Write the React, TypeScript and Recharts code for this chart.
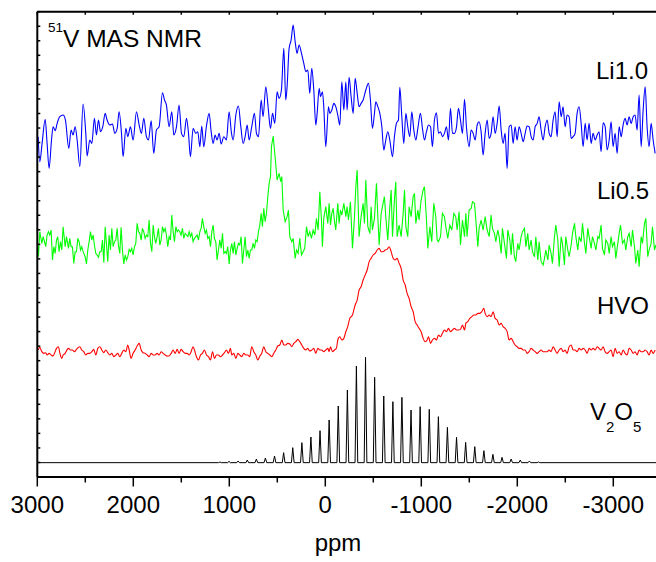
import { LineChart, Line, XAxis, YAxis } from "recharts";

// [ppm, intensity], intensity relative to each trace's baseline (a.u.)
const li10: [number, number][] = [
  [2991, -10], [2974, -85], [2950, -30], [2918, 42], [2898, -30], [2877, -105], [2852, -20], [2835, 20], [2814, 8], [2793, 30],
  [2766, 50], [2731, 55], [2707, 40], [2672, -45], [2648, 10], [2627, -5], [2606, 20], [2585, -20], [2557, -100], [2523, 88],
  [2495, 0], [2481, -68], [2453, -20], [2432, -30], [2405, 45], [2384, -5], [2363, 40], [2342, 5], [2318, 20], [2293, 60],
  [2273, 40], [2245, 25], [2217, 28], [2193, 0], [2168, 15], [2148, 65], [2123, 0], [2106, -70], [2078, 15], [2057, -10],
  [2030, 20], [2002, -20], [1967, 65], [1939, 25], [1915, 0], [1891, 45], [1863, -10], [1842, -20], [1814, 38], [1787, -60],
  [1759, 10], [1731, 20], [1696, 122], [1675, 100], [1655, 85], [1627, 20], [1599, 65], [1578, -5], [1550, 20], [1523, 85],
  [1498, 0], [1474, -10], [1446, 45], [1425, 0], [1405, -70], [1377, 15], [1349, 0], [1328, 5], [1307, -40], [1287, 22],
  [1266, -40], [1238, 22], [1210, 60], [1189, 5], [1168, -30], [1148, -5], [1127, -20], [1106, 0], [1085, -32], [1057, -10],
  [1030, -20], [1002, 65], [977, 0], [960, -20], [932, 55], [905, 82], [880, 20], [856, -30], [835, -10], [814, 25],
  [793, -20], [766, 20], [738, 60], [717, 0], [696, -10], [668, 100], [648, 50], [620, 140], [596, 80], [571, 15],
  [550, 60], [526, 30], [502, 125], [481, 105], [457, 130], [432, 255], [412, 100], [398, 140], [377, 255], [356, 280],
  [335, 325], [314, 275], [294, 240], [273, 265], [248, 240], [224, 210], [203, 185], [182, 190], [162, 120], [141, 195],
  [120, 130], [99, 25], [85, 60], [64, 135], [50, 110], [30, 125], [16, 80],
  [-5, -40], [-33, 80], [-47, 60], [-68, 70], [-89, 90], [-109, 80], [-130, 55], [-151, 25], [-172, 155], [-193, 70],
  [-214, 155], [-227, 70], [-248, 168], [-269, 110], [-290, 60], [-311, 165], [-332, 120], [-352, 80], [-373, 90], [-394, 100],
  [-422, 130], [-450, 150], [-470, 100], [-491, 15], [-512, 60], [-526, 95], [-547, 80], [-568, 60], [-589, 20], [-609, -50],
  [-630, -20], [-651, 5], [-672, -20], [-700, -70], [-720, -10], [-741, 30], [-762, 40], [-776, 138], [-797, 50], [-818, -30],
  [-839, 60], [-859, 20], [-880, -10], [-901, 65], [-922, 10], [-943, -20], [-964, 15], [-991, 60], [-1012, 15], [-1033, -20],
  [-1054, 5], [-1075, 25], [-1096, 20], [-1116, -40], [-1137, 40], [-1158, 62], [-1179, 0], [-1200, 5], [-1220, -10], [-1241, 0],
  [-1262, 20], [-1283, -20], [-1304, 75], [-1325, 0], [-1345, 0], [-1366, 18], [-1387, 75], [-1408, 40], [-1429, 0], [-1450, 102],
  [-1470, 20], [-1498, -40], [-1519, 10], [-1540, 0], [-1561, -20], [-1582, 25], [-1602, 35], [-1623, 5], [-1644, -65], [-1665, 0],
  [-1686, 40], [-1707, -15], [-1727, 0], [-1748, 50], [-1769, 0], [-1790, 30], [-1811, 82], [-1832, 10], [-1852, -30], [-1873, 0],
  [-1894, -105], [-1915, 20], [-1936, 25], [-1957, -30], [-1977, 20], [-1998, -20], [-2019, 20], [-2040, 0], [-2061, -25], [-2082, 0],
  [-2102, 22], [-2123, 20], [-2144, -10], [-2165, -20], [-2186, 20], [-2207, 30], [-2227, 50], [-2248, 10], [-2269, -20], [-2290, 20],
  [-2311, 40], [-2332, 0], [-2352, -10], [-2373, 40], [-2394, 65], [-2415, -10], [-2436, 95], [-2457, 50], [-2477, 80], [-2498, 20],
  [-2519, 55], [-2540, 50], [-2561, -15], [-2582, -10], [-2602, 0], [-2623, 60], [-2644, 80], [-2665, 30], [-2686, -40], [-2707, 30],
  [-2727, -20], [-2748, 30], [-2769, -30], [-2790, 0], [-2811, -20], [-2832, -5], [-2852, 5], [-2873, -55], [-2894, 32], [-2915, 20],
  [-2936, -50], [-2957, -20], [-2977, 35], [-2998, -40], [-3019, 0], [-3040, -60], [-3061, 20], [-3082, -10], [-3102, 25], [-3123, 45],
  [-3144, 25], [-3165, 50], [-3186, 30], [-3207, 50], [-3227, 55], [-3248, 10], [-3269, 115], [-3290, -40], [-3311, 70], [-3332, 140],
  [-3352, 20], [-3373, -40], [-3394, 30], [-3415, -20], [-3436, -60],
];

const li05: [number, number][] = [
  [3002, 20], [2988, -40], [2974, 35], [2953, 0], [2939, 20], [2925, 5], [2912, -10], [2898, 25], [2884, 35], [2870, 25],
  [2856, 40], [2842, -50], [2828, -10], [2814, -30], [2800, 10], [2787, 20], [2773, -25], [2759, 5], [2745, -20], [2731, 50],
  [2710, -10], [2696, 20], [2675, -15], [2662, 15], [2648, -10], [2634, -10], [2620, -60], [2606, -25], [2592, -25], [2578, 15],
  [2564, 5], [2550, -20], [2537, -10], [2523, -25], [2502, -40], [2488, -62], [2474, -20], [2460, 5], [2446, 35], [2432, 10],
  [2418, 25], [2405, -5], [2391, -30], [2377, -35], [2363, -42], [2349, -25], [2335, -25], [2321, 10], [2307, -58], [2293, 50],
  [2280, 0], [2266, -55], [2252, 25], [2238, -20], [2224, 45], [2210, -10], [2196, 5], [2182, 10], [2168, 45], [2155, -5],
  [2141, -30], [2127, 48], [2113, -20], [2099, -62], [2085, -35], [2071, -50], [2057, -40], [2043, -18], [2030, -25], [2016, -15],
  [2002, -35], [1988, -10], [1974, 0], [1960, 60], [1946, 35], [1932, 30], [1918, 10], [1905, 45], [1891, 35], [1877, 15],
  [1863, 25], [1849, 20], [1835, 70], [1821, 0], [1807, -25], [1793, 55], [1780, 20], [1766, 0], [1752, 20], [1738, 45],
  [1724, -5], [1710, 10], [1696, 50], [1682, 35], [1668, 45], [1655, 25], [1641, -10], [1627, 20], [1613, 10], [1599, 85],
  [1585, 35], [1571, 5], [1557, 50], [1543, 35], [1530, 40], [1516, 35], [1502, 25], [1488, 45], [1474, 15], [1460, 30],
  [1446, 25], [1432, 20], [1418, 35], [1405, 20], [1391, 30], [1377, 5], [1363, 15], [1349, 20], [1335, 25], [1321, 10],
  [1307, 35], [1293, 45], [1280, 75], [1266, 50], [1252, 30], [1238, 40], [1224, 15], [1210, 20], [1196, -10], [1182, 35],
  [1168, 55], [1155, 15], [1141, 5], [1127, -50], [1113, -20], [1099, 10], [1085, -15], [1071, 30], [1057, -30], [1043, -25],
  [1030, -30], [1016, -10], [1002, -62], [988, -20], [974, 0], [960, -30], [946, 5], [932, -35], [918, -15], [905, 0],
  [891, -5], [877, 20], [863, -60], [849, -20], [835, 20], [821, -40], [807, -20], [793, -45], [780, -20], [766, -20],
  [752, 0], [738, -15], [724, 10], [710, 5], [696, 35], [682, 55], [668, 90], [655, 50], [641, 105], [627, 65],
  [613, 90], [599, 140], [585, 180], [571, 200], [561, 290], [543, 322], [523, 260], [502, 190], [481, 210], [464, 185],
  [453, 200], [439, 100], [418, 65], [398, 80], [384, 100], [370, 20], [349, 5], [335, 15], [314, -45], [300, -20],
  [283, -30], [266, 15], [248, -35], [231, -25], [214, -15], [196, 50], [179, 20], [162, 35], [144, 15], [127, 40],
  [109, 25], [92, 75], [75, 40], [57, 155], [40, 70], [30, -10], [16, 75],
  [-5, 110], [-26, 60], [-40, 120], [-54, 55], [-68, 90], [-82, 105], [-96, 65], [-109, 40], [-130, 120], [-144, 60],
  [-158, 100], [-172, 85], [-193, 120], [-214, 80], [-227, 110], [-241, 70], [-262, 125], [-283, -15], [-304, 80], [-318, 170],
  [-332, 220], [-352, 20], [-373, 80], [-394, 120], [-408, 60], [-422, 190], [-443, 50], [-464, 30], [-477, 110], [-491, 40],
  [-512, 75], [-533, 180], [-547, 80], [-561, -5], [-582, 90], [-595, 110], [-616, 140], [-630, 80], [-651, 10], [-672, 110],
  [-686, 160], [-700, 20], [-720, 130], [-734, 185], [-748, 20], [-769, 55], [-790, 20], [-811, 90], [-825, 160], [-839, 50],
  [-859, 20], [-873, 110], [-894, 80], [-915, 140], [-929, 150], [-943, 60], [-964, 100], [-977, 70], [-998, 130], [-1019, 160],
  [-1033, 170], [-1054, 70], [-1068, -15], [-1089, 50], [-1109, 5], [-1130, 120], [-1151, 80], [-1165, 10], [-1179, 5], [-1200, 20],
  [-1220, 90], [-1241, 80], [-1255, 50], [-1276, 15], [-1297, 55], [-1318, 40], [-1339, 90], [-1359, 80], [-1373, 40], [-1394, 95],
  [-1408, -5], [-1429, 70], [-1450, 20], [-1464, 90], [-1477, 20], [-1498, 100], [-1519, 105], [-1533, 125], [-1554, 120], [-1568, 70],
  [-1589, -10], [-1602, 45], [-1623, 70], [-1644, 40], [-1665, 80], [-1686, 40], [-1707, 20], [-1727, 85], [-1741, 45], [-1762, 30],
  [-1776, 5], [-1797, 40], [-1811, 20], [-1832, -30], [-1845, 45], [-1866, 0], [-1887, -45], [-1901, 40], [-1922, 10], [-1936, -35],
  [-1950, 30], [-1970, -40], [-1984, -55], [-2005, 0], [-2019, -20], [-2040, 20], [-2054, 35], [-2075, 45], [-2089, -10], [-2109, 30],
  [-2123, -20], [-2144, 10], [-2158, -25], [-2179, -40], [-2193, 20], [-2214, -50], [-2227, 5], [-2248, -55], [-2269, -65], [-2283, -45],
  [-2297, -20], [-2318, -50], [-2332, -5], [-2352, -30], [-2366, -60], [-2387, 20], [-2401, 55], [-2422, 10], [-2436, -70], [-2457, 20],
  [-2470, 0], [-2491, -65], [-2505, 20], [-2526, -20], [-2540, -40], [-2561, -5], [-2575, 30], [-2596, 60], [-2610, 20], [-2630, -20],
  [-2644, 20], [-2665, 5], [-2679, 60], [-2700, 0], [-2714, -30], [-2734, 45], [-2748, 20], [-2769, -15], [-2783, 20], [-2804, 0],
  [-2818, -20], [-2839, 20], [-2852, 15], [-2873, 55], [-2887, -15], [-2908, -35], [-2922, 10], [-2943, 0], [-2957, -30], [-2977, 20],
  [-2991, -10], [-3012, 5], [-3026, -45], [-3047, 0], [-3061, 30], [-3075, 55], [-3096, 0], [-3116, 10], [-3130, -20], [-3151, 20],
  [-3165, 30], [-3186, -10], [-3200, 40], [-3221, -10], [-3234, -60], [-3255, -20], [-3269, -70], [-3290, 20], [-3304, 0], [-3325, 60],
  [-3339, 75], [-3359, -40], [-3373, -20], [-3394, 0], [-3408, 50], [-3429, -20], [-3443, -5],
];

const hvo: [number, number][] = [
  [2991, 5], [2974, 13], [2953, 0], [2932, -5], [2912, -3], [2898, -10], [2877, -5], [2856, -10], [2835, -13], [2821, -5],
  [2800, 10], [2780, 15], [2766, -3], [2745, -20], [2731, -10], [2710, -5], [2696, 3], [2675, 10], [2655, 5], [2634, 5],
  [2613, 0], [2592, 7], [2571, 13], [2557, 15], [2537, 5], [2516, 0], [2495, -10], [2474, -5], [2453, -5], [2432, 0],
  [2412, 7], [2391, -10], [2370, 10], [2349, 15], [2328, 5], [2307, -3], [2287, 5], [2266, -3], [2245, -10], [2224, -5],
  [2203, -15], [2182, -10], [2162, -5], [2141, -15], [2120, -5], [2099, 5], [2078, 0], [2057, 20], [2043, 5], [2023, -20],
  [2002, -5], [1981, 5], [1960, 17], [1939, 25], [1918, 5], [1898, -3], [1877, -5], [1856, -10], [1835, -15], [1814, -5],
  [1793, -10], [1773, -10], [1752, -5], [1731, -10], [1710, 0], [1689, -5], [1668, -10], [1648, -13], [1627, -13], [1606, -5],
  [1585, 5], [1564, -5], [1543, 7], [1523, -5], [1502, 7], [1481, 0], [1460, -5], [1439, -5], [1418, -10], [1398, 0],
  [1377, 15], [1363, 5], [1342, -15], [1321, -25], [1300, -10], [1280, -5], [1259, 5], [1238, -10], [1217, -15], [1196, -25],
  [1175, 0], [1155, -20], [1134, -10], [1113, -10], [1092, -15], [1071, -10], [1050, -3], [1030, 5], [1009, -5], [988, 10],
  [974, -10], [953, -5], [932, -20], [911, -5], [891, -10], [870, -15], [849, -5], [828, -10], [807, -10], [787, -15],
  [766, 15], [745, 0], [724, -10], [703, -25], [682, -13], [662, -5], [641, 15], [620, 0], [599, -5], [578, -10],
  [557, -15], [537, -5], [516, 5], [495, 17], [474, 20], [453, 35], [432, 20], [412, 20], [391, 25], [370, 23],
  [349, 15], [328, 25], [307, 30], [287, 37], [266, 30], [245, 20], [224, 10], [203, 5], [182, 10], [162, 2],
  [141, 5], [120, 10], [99, -5], [78, 10], [57, 5], [37, 5], [16, 0],
  [-5, 5], [-26, 10], [-40, 0], [-54, 15], [-75, 0], [-96, 5], [-116, 10], [-130, 35], [-151, 45], [-172, 35],
  [-193, 40], [-214, 60], [-234, 75], [-255, 100], [-283, 110], [-311, 140], [-332, 155], [-352, 185], [-373, 195], [-394, 215],
  [-415, 230], [-436, 245], [-457, 270], [-477, 280], [-498, 290], [-519, 295], [-540, 305], [-561, 310], [-582, 300], [-602, 300],
  [-623, 305], [-644, 307], [-665, 315], [-686, 300], [-707, 280], [-727, 275], [-748, 280], [-769, 265], [-790, 250], [-811, 215],
  [-832, 200], [-852, 175], [-873, 160], [-894, 135], [-915, 120], [-936, 90], [-957, 80], [-977, 70], [-998, 60], [-1019, 40],
  [-1040, 30], [-1061, 35], [-1075, 45], [-1096, 25], [-1116, 35], [-1137, 40], [-1158, 35], [-1179, 50], [-1200, 45], [-1220, 55],
  [-1241, 65], [-1262, 60], [-1283, 70], [-1304, 60], [-1325, 65], [-1345, 70], [-1366, 65], [-1387, 65], [-1408, 67], [-1429, 80],
  [-1450, 65], [-1464, 85], [-1484, 90], [-1505, 100], [-1526, 105], [-1547, 110], [-1568, 110], [-1589, 115], [-1609, 115], [-1630, 120],
  [-1651, 130], [-1665, 115], [-1686, 105], [-1707, 110], [-1727, 105], [-1748, 120], [-1769, 100], [-1790, 95], [-1811, 80], [-1832, 85],
  [-1852, 75], [-1873, 70], [-1894, 60], [-1915, 35], [-1936, 40], [-1957, 30], [-1977, 20], [-1998, 15], [-2019, 10], [-2040, 10],
  [-2061, 5], [-2082, 5], [-2102, -5], [-2123, 0], [-2144, 10], [-2165, 5], [-2186, 0], [-2207, -5], [-2227, 0], [-2248, 5],
  [-2269, 0], [-2290, 0], [-2311, 0], [-2332, 5], [-2352, 0], [-2373, 15], [-2394, 5], [-2415, -5], [-2436, 5], [-2457, 10],
  [-2477, 0], [-2498, 5], [-2519, -5], [-2540, 15], [-2561, 20], [-2582, 5], [-2602, 5], [-2623, 0], [-2644, 10], [-2665, 5],
  [-2686, 10], [-2707, 5], [-2727, -5], [-2748, 10], [-2769, 5], [-2790, 10], [-2811, 5], [-2832, 15], [-2852, 10], [-2873, 5],
  [-2894, 15], [-2915, 0], [-2936, -5], [-2957, 0], [-2977, 5], [-2998, -15], [-3019, 10], [-3040, -5], [-3061, 0], [-3082, -10],
  [-3102, 5], [-3123, -5], [-3144, -10], [-3165, 10], [-3186, 5], [-3207, -5], [-3227, 0], [-3248, -10], [-3269, 5], [-3290, 0],
  [-3311, 0], [-3332, 5], [-3352, 0], [-3373, -10], [-3394, 5], [-3415, -5], [-3436, 5],
];

// V2O5 spinning sidebands: centre (ppm) and height
const v2o5PeakPpm = [
  1098, 1003, 908, 813, 718, 624, 529, 434, 339, 244, 150, 55, -40, -135, -230, -324, -419, -514,
  -609, -704, -798, -893, -988, -1083, -1178, -1272, -1367, -1462, -1557, -1652, -1746, -1841, -1936, -2031, -2126, -2220,
];
const v2o5PeakHeight = [
  2, 4, 5, 8, 11, 14, 20, 30, 45, 60, 77, 96, 128, 170, 218, 290, 316, 256,
  200, 183, 196, 158, 168, 160, 138, 106, 76, 61, 48, 36, 25, 16, 11, 8, 5, 2,
];

// vertical offsets of the stacked spectra
const offsets = { li10: 1031, li05: 701, hvo: 376, v2o5: 43 };

const xTicks = [3000, 2500, 2000, 1500, 1000, 500, 0, -500, -1000, -1500, -2000, -2500, -3000, -3500];
const yTicks = Array.from({ length: 33 }, (_, i) => i * 43.625);

const FONT = "'Liberation Sans', Arial, sans-serif";

const rows = (pts: [number, number][], off: number) => pts.map(([ppm, v]) => ({ ppm, v: v + off }));

const v2o5Rows = () => {
  const off = offsets.v2o5;
  const out = [{ ppm: 3000, v: off }];
  v2o5PeakPpm.forEach((p, i) => {
    out.push({ ppm: p + 14, v: off }, { ppm: p, v: off + v2o5PeakHeight[i] }, { ppm: p - 14, v: off });
  });
  out.push({ ppm: -3500, v: off });
  return out;
};

const BottomTick = (props: any) => {
  const { x, y, payload } = props;
  const major = payload.value % 1000 === 0;
  return (
    <g>
      <line x1={x} y1={y} x2={x} y2={y + (major ? 9.5 : 5.5)} stroke="#000" strokeWidth={1.5} />
      {major && (
        <text x={x} y={y + 36} textAnchor="middle" fontSize={24} fontFamily={FONT} fill="#000">
          {payload.value}
        </text>
      )}
    </g>
  );
};

const TopTick = (props: any) => (
  <line x1={props.x} y1={props.y} x2={props.x} y2={props.y + 3} stroke="#000" strokeWidth={1.5} />
);

const LeftTick = (props: any) => (
  <line x1={props.x} y1={props.y} x2={props.x + 3} y2={props.y} stroke="#000" strokeWidth={1.5} />
);

export default function App() {
  return (
    <div
      style={{
        position: "fixed",
        left: 0,
        top: 0,
        width: 656,
        height: 562,
        overflow: "hidden",
        background: "#fff",
      }}
    >
      <LineChart width={680} height={562} margin={{ top: 9.7, right: 18.7, bottom: 25, left: 36.3 }}>
        <XAxis
          dataKey="ppm"
          type="number"
          domain={[-3500, 3000]}
          reversed
          allowDataOverflow
          ticks={xTicks}
          interval={0}
          height={60}
          tickSize={0}
          tickMargin={0}
          tickLine={false}
          tick={BottomTick}
          axisLine={{ stroke: "#000", strokeWidth: 2 }}
        />
        <XAxis
          xAxisId="top"
          orientation="top"
          dataKey="ppm"
          type="number"
          domain={[-3500, 3000]}
          reversed
          allowDataOverflow
          ticks={xTicks}
          interval={0}
          height={2}
          tickSize={0}
          tickMargin={0}
          tickLine={false}
          tick={TopTick}
          axisLine={{ stroke: "#000", strokeWidth: 2 }}
        />
        <YAxis
          type="number"
          domain={[0, 1396]}
          allowDataOverflow
          ticks={yTicks}
          interval={0}
          width={1}
          tickSize={0}
          tickMargin={0}
          tickLine={false}
          tick={LeftTick}
          axisLine={{ stroke: "#000", strokeWidth: 2 }}
        />
        <Line type="monotone" data={rows(li10, offsets.li10)} dataKey="v" stroke="#0000ff" strokeWidth={1.1} dot={false} isAnimationActive={false} />
        <Line data={rows(li05, offsets.li05)} dataKey="v" stroke="#00ff00" strokeWidth={1.1} dot={false} isAnimationActive={false} />
        <Line type="monotone" data={rows(hvo, offsets.hvo)} dataKey="v" stroke="#ff0000" strokeWidth={1.1} dot={false} isAnimationActive={false} />
        <Line data={v2o5Rows()} dataKey="v" stroke="#000000" strokeWidth={1} dot={false} isAnimationActive={false} />
      </LineChart>
      <svg
        width={656}
        height={562}
        style={{ position: "absolute", left: 0, top: 0, pointerEvents: "none" }}
        fontFamily={FONT}
        fill="#000"
      >
        <text x={48} y={47}>
          <tspan fontSize={13.5} dy={-15}>51</tspan>
          <tspan fontSize={24.5} dy={15}>V MAS NMR</tspan>
        </text>
        <text x={648} y={79} textAnchor="end" fontSize={24}>Li1.0</text>
        <text x={649} y={199} textAnchor="end" fontSize={24}>Li0.5</text>
        <text x={649} y={314} textAnchor="end" fontSize={24}>HVO</text>
        <text x={590} y={420} fontSize={24}>
          V<tspan fontSize={15} dy={12}>2</tspan>
          <tspan fontSize={24} dy={-12}>O</tspan>
          <tspan fontSize={15} dy={12}>5</tspan>
        </text>
        <text x={338} y={551} textAnchor="middle" fontSize={24}>ppm</text>
      </svg>
    </div>
  );
}
